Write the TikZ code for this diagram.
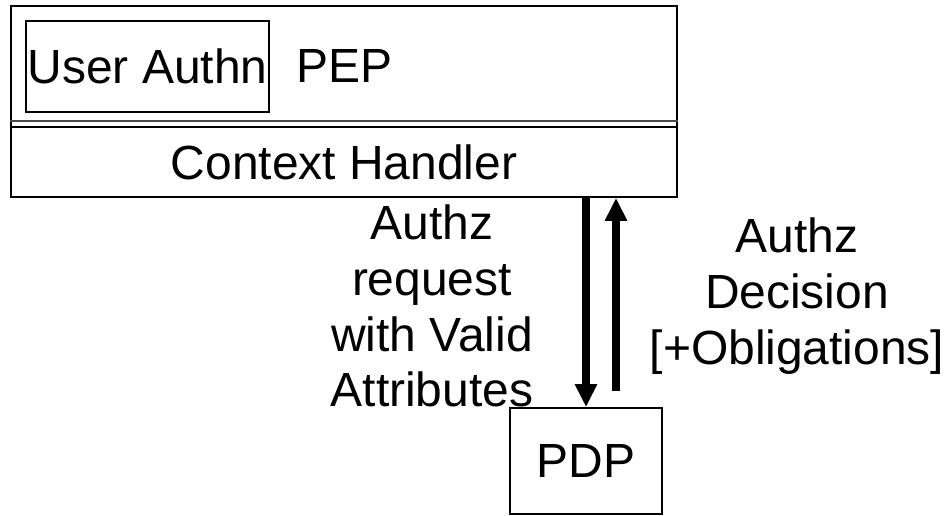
\documentclass[tikz,border=0pt]{standalone}
\usepackage{fontspec}
\setmainfont{Liberation Sans}
\usetikzlibrary{arrows.meta, positioning}

\begin{document}
\begin{tikzpicture}[x=0.02cm, y=-0.02cm, font=\fontsize{27.3}{31.8}\selectfont,
  box/.style={draw, line width=1.1pt, inner sep=0pt},
  flow/.style={-{Triangle[length=0.46cm, width=0.42cm]}, line width=4.5pt}]
  \useasboundingbox (0,0) rectangle (952,516);
  \node[box, minimum width=13.32cm, minimum height=3.82cm] (pep) at (344,101.5) {};
  \node (peplabel) at (344,66) {PEP};
  \node[box, minimum width=4.86cm, minimum height=1.82cm] (authn) at (147.5,66.5) {User Authn};
  \node[box, minimum width=13.32cm, minimum height=1.4cm, anchor=south] (ctx) at (pep.south) {Context Handler};
  \draw[line width=0.6pt, black!70] ([yshift=0.1cm]ctx.north west) -- ([yshift=0.1cm]ctx.north east);
  \node[box, minimum width=3.04cm, minimum height=2.12cm] (pdp) at (586,461) {PDP};
  \draw[flow] (pdp.north |- pep.south) -- (pdp.north);
  \draw[flow] ([xshift=0.6cm, yshift=0.32cm]pdp.north) -- ([xshift=0.6cm]pdp.north |- pep.south);
  \node[align=center] (req) at (432,306) {Authz\\request\\with Valid\\Attributes};
  \node[align=center] (dec) at (797,296) {Authz\\Decision\\{[+Obligations]}};
\end{tikzpicture}
\end{document}
